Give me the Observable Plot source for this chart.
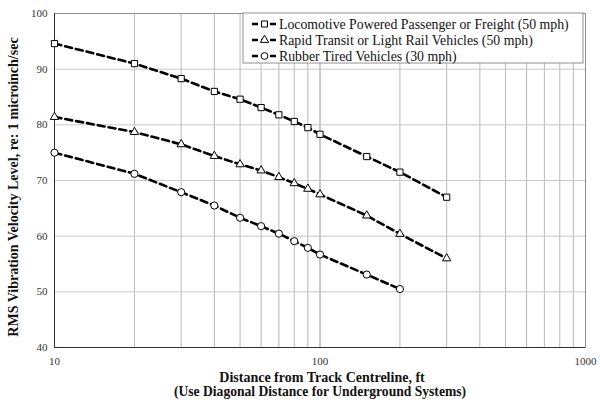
<!DOCTYPE html>
<html><head><meta charset="utf-8">
<script src="https://cdn.jsdelivr.net/npm/d3@7"></script>
<script src="https://cdn.jsdelivr.net/npm/@observablehq/plot@0.6"></script>
<style>body{margin:0;background:#fff;} svg{font-family:"Liberation Serif","Times New Roman",serif;}</style>
</head><body><div id="chart"></div>
<script>
const distances = [10,20,30,40,50,60,70,80,90,100,150,200,300];
const locomotive = [94.6,91.0,88.3,86.0,84.6,83.1,81.8,80.6,79.5,78.3,74.3,71.5,67.0];
const rapidTransit = [81.4,78.7,76.5,74.4,72.9,71.8,70.6,69.5,68.5,67.5,63.7,60.4,56.0];
const rubberDistances = [10,20,30,40,50,60,70,80,90,100,150,200];
const rubberTired = [75.0,71.2,67.9,65.5,63.3,61.8,60.45,59.1,57.9,56.7,53.1,50.5];
const seriesNames = ["Locomotive Powered Passenger or Freight (50 mph)","Rapid Transit or Light Rail Vehicles (50 mph)","Rubber Tired Vehicles (30 mph)"];
const symbols = ["square","triangle","circle"];
const xTickLabels = [10,100,1000];
const yTicks = [40,50,60,70,80,90,100];

const series = [
  distances.map((d,i)=>({x:d,y:locomotive[i],s:seriesNames[0]})),
  distances.map((d,i)=>({x:d,y:rapidTransit[i],s:seriesNames[1]})),
  rubberDistances.map((d,i)=>({x:d,y:rubberTired[i],s:seriesNames[2]}))
];
const gridX = [];
for (let dec of [10,100]) for (let k=1;k<=10;k++) gridX.push(dec*k);

const marks = [
  Plot.gridX(gridX,{stroke:"#b8b8b8",strokeOpacity:1,strokeWidth:1}),
  Plot.gridY(yTicks,{stroke:"#c8c8c8",strokeOpacity:1,strokeWidth:1}),
  Plot.frame({stroke:"#909090"}),
  Plot.axisX(xTickLabels,{tickSize:0,tickPadding:10,fontSize:11,fill:"#333",label:null,tickFormat:d=>String(d)}),
  Plot.axisY(yTicks,{tickSize:0,tickPadding:7,fontSize:11,fill:"#333",label:null}),
  Plot.ruleX([10],{stroke:"#333"}),
  Plot.ruleY([40],{stroke:"#333"})
];
const radii = [3.5,3.1,3.6];
series.forEach((data,i)=>{
  marks.push(Plot.line(data,{x:"x",y:"y",stroke:"black",strokeWidth:2.6,strokeDasharray:"7,4"}));
  marks.push(Plot.dot(data,{x:"x",y:"y",symbol:()=>symbols[i],r:radii[i],fill:"white",stroke:"black",strokeWidth:1}));
});

const plot = Plot.plot({
  width:603,height:400,
  marginLeft:54,marginRight:18,marginTop:13,marginBottom:53,
  x:{type:"log",domain:[10,1000]},
  y:{domain:[40,100]},
  symbol:{type:"identity"},
  style:{fontFamily:"Liberation Serif, Times New Roman, serif",background:"white"},
  marks
});
document.getElementById("chart").appendChild(plot);

const svg = d3.select(plot);
// axis titles
svg.append("text").attr("transform","translate(18,187) rotate(-90)")
  .attr("text-anchor","middle").attr("font-weight","bold").attr("font-size",14).attr("fill","#111")
  .text("RMS Vibration Velocity Level, re: 1 microinch/sec");
svg.append("text").attr("x",322).attr("y",382).attr("text-anchor","middle").attr("font-weight","bold").attr("font-size",14).attr("fill","#111")
  .text("Distance from Track Centreline, ft");
svg.append("text").attr("x",320).attr("y",396).attr("text-anchor","middle").attr("font-weight","bold").attr("font-size",13.6).attr("fill","#111")
  .text("(Use Diagonal Distance for Underground Systems)");

// legend
const lg = svg.append("g");
lg.append("rect").attr("x",243).attr("y",13).attr("width",340).attr("height",50).attr("fill","white").attr("stroke","#909090");
const legendSym = [d3.symbolSquare,d3.symbolTriangle,d3.symbolCircle];
seriesNames.forEach((name,i)=>{
  const y = 24 + i*16;
  lg.append("line").attr("x1",252).attr("x2",277).attr("y1",y).attr("y2",y).attr("stroke","black").attr("stroke-width",2.6).attr("stroke-dasharray","6,3");
  lg.append("path").attr("d",d3.symbol(legendSym[i], i===1?30:36)()).attr("transform",`translate(264.5,${y})`).attr("fill","white").attr("stroke","black");
  lg.append("text").attr("x",279).attr("y",y).attr("dy","0.35em").attr("text-anchor","start").attr("font-size",13.8).attr("fill","#111").text(name);
});
</script></body></html>
